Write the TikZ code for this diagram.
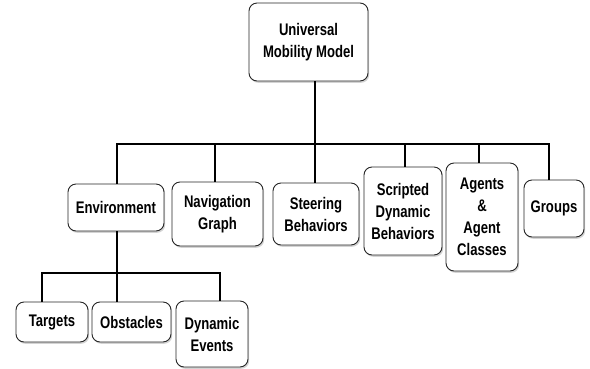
\documentclass[tikz,border=0pt]{standalone}
\usepackage{fontspec}
\newfontfamily\boxfont[FakeStretch=0.78]{Liberation Sans}
\usetikzlibrary{shadows}
\begin{document}
\begin{tikzpicture}[x=1pt,y=-1pt,
  box/.style={draw=black!85, line width=0.9pt, fill=white, rounded corners=8pt,
    align=center, inner sep=0pt,
    font=\boxfont\bfseries\fontsize{16.8}{22}\selectfont,
    drop shadow={opacity=0.35, shadow xshift=1.2pt, shadow yshift=-1.8pt}},
  wire/.style={line width=1.6pt, black}]
\useasboundingbox (0,0) rectangle (590,368);
% nodes
\node[box, minimum width=119pt, minimum height=78pt] (top) at (308.5,42) {Universal\\Mobility Model};
\node[box, minimum width=96pt, minimum height=47pt] (env) at (116,207.5) {Environment};
\node[box, minimum width=91pt, minimum height=64pt] (nav) at (217.5,214) {Navigation\\Graph};
\node[box, minimum width=86pt, minimum height=62pt] (steer) at (316,214) {Steering\\Behaviors};
\node[box, minimum width=78pt, minimum height=88pt] (script) at (403,211) {Scripted\\Dynamic\\Behaviors};
\node[box, minimum width=72pt, minimum height=108pt] (agents) at (482,217) {Agents\\\&\\Agent\\Classes};
\node[box, minimum width=60pt, minimum height=57pt] (groups) at (554,208.5) {Groups};
\node[box, minimum width=72pt, minimum height=40pt] (targets) at (52,322) {Targets};
\node[box, minimum width=79pt, minimum height=40pt] (obst) at (131.5,322) {Obstacles};
\node[box, minimum width=72pt, minimum height=66pt] (dyn) at (212,334) {Dynamic\\Events};
% bus coordinates
\coordinate (bTop) at (315,144);
\coordinate (bEnv) at (117,144);
\coordinate (bNav) at (215,144);
\coordinate (bSteer) at (315,144);
\coordinate (bScript) at (405,144);
\coordinate (bAgents) at (479,144);
\coordinate (bGroups) at (549,144);
\coordinate (sEnv) at (117,273);
\coordinate (sTargets) at (42,273);
\coordinate (sObst) at (117,273);
\coordinate (sDyn) at (220,273);
% connectors
\draw[wire] (top.south -| bTop) -- (bTop);
\draw[wire, line cap=rect] (bEnv) -- (bGroups);
\draw[wire] (bEnv) -- (bEnv |- env.north);
\draw[wire] (bNav) -- (bNav |- nav.north);
\draw[wire] (bSteer) -- (bSteer |- steer.north);
\draw[wire] (bScript) -- (bScript |- script.north);
\draw[wire] (bAgents) -- (bAgents |- agents.north);
\draw[wire] (bGroups) -- (bGroups |- groups.north);
\draw[wire] (env.south -| sEnv) -- (sEnv);
\draw[wire, line cap=rect] (sTargets) -- (sDyn);
\draw[wire] (sTargets) -- (sTargets |- targets.north);
\draw[wire] (sObst) -- (sObst |- obst.north);
\draw[wire] (sDyn) -- (sDyn |- dyn.north);
\end{tikzpicture}
\end{document}
